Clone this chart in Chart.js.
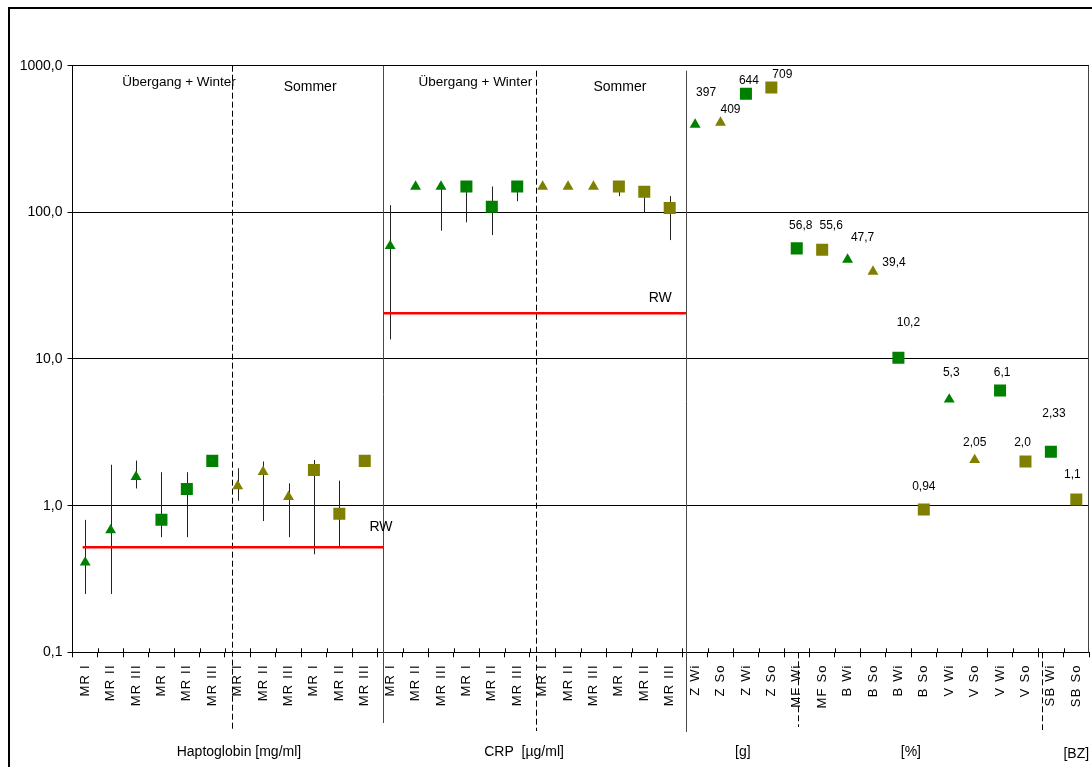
<!DOCTYPE html>
<html><head><meta charset="utf-8">
<script src="https://cdn.jsdelivr.net/npm/chart.js@4.4.1/dist/chart.umd.min.js"></script>
<style>html,body{margin:0;padding:0;background:#fff;}canvas{display:block;}</style>
</head><body>
<canvas id="c" width="1092" height="767"></canvas>
<script>
// ---------- data ----------
const categories = [
  'MR I','MR II','MR III','MR I','MR II','MR III','MR I','MR II','MR III','MR I','MR II','MR III',
  'MR I','MR II','MR III','MR I','MR II','MR III','MR I','MR II','MR III','MR I','MR II','MR III',
  'Z Wi','Z So','Z Wi','Z So','MF Wi','MF So','B Wi','B So','B Wi','B So','V Wi','V So','V Wi','V So','SB Wi','SB So'
];
const yTicks = [0.1, 1, 10, 100, 1000];

const haptoMean = [0.41, 0.68, 1.57, 0.80, 1.30, 2.02, 1.36, 1.70, 1.15, 1.75, 0.88, 2.02];
const haptoHigh = [0.80, 1.90, 2.03, 1.69, 1.69, null, 1.80, 2.00, 1.42, 2.05, 1.48, null];
const haptoLow  = [0.25, 0.25, 1.31, 0.61, 0.61, null, 1.08, 0.785, 0.61, 0.466, 0.525, null];

const crpMean = [59, 150, 150, 150, 109, 150, 150, 150, 150, 150, 138, 107];
const crpHigh = [112, null, 150, 150, 150, 150, null, null, null, 150, 138, 129];
const crpLow  = [13.6, null, 75, 85.5, 70, 119, null, null, null, 129, 100, 64.7];

const otherValues = [397, 409, 644, 709, 56.8, 55.6, 47.7, 39.4, 10.2, 0.94, 5.3, 2.05, 6.1, 2.0, 2.33, 1.1];
const otherLabels = ['397','409','644','709','56,8','55,6','47,7','39,4','10,2','0,94','5,3','2,05','6,1','2,0','2,33','1,1'];

const haptoRW = 0.52;
const crpRW = 20.5;

// ---------- styles ----------
const G = '#008000', O = '#808000';
const TRI = 'triangle', SQ = 'rect';
const groupShapes = [TRI,TRI,TRI,SQ,SQ,SQ,TRI,TRI,TRI,SQ,SQ,SQ];
const groupColors = [G,G,G,G,G,G,O,O,O,O,O,O];
const otherShapes = [TRI,TRI,SQ,SQ,SQ,SQ,TRI,TRI,SQ,SQ,TRI,TRI,SQ,SQ,SQ,SQ];
const otherColors = [G,O,G,O,G,O,G,O,G,O,G,O,G,O,G,O];
const otherLabelOffsets = [[11,-32],[10,-13],[3,-13],[11,-13],[4,-23],[9,-24],[15,-22],[21,-9],
  [10,-35],[0,-23],[2,-27],[0,-17],[2,-18],[-3,-19],[3,-38],[-4,-25]];

const HAPTO_START = 0, CRP_START = 12, OTHER_START = 24;

function pts(vals, start) { return vals.map((v, i) => ({ x: start + i, y: v })); }
function radii(shapes) { return shapes.map(s => s === SQ ? 8.5 : 6.3); }
function markerDataset(label, vals, start, shapes, colors) {
  return {
    label, data: pts(vals, start), showLine: false,
    pointStyle: shapes, pointRadius: radii(shapes),
    backgroundColor: colors, borderColor: colors, borderWidth: 0, order: 1
  };
}
function rwDataset(label, x0, x1, v) {
  return {
    label, data: [{ x: x0, y: v }, { x: x1, y: v }], showLine: true,
    borderColor: '#ff0000', borderWidth: 2.5, pointRadius: 0, order: 2
  };
}

Chart.defaults.font.family = "'Liberation Sans', Arial, sans-serif";
Chart.defaults.color = '#000';

const SEP_HAP = 11.73, SEP_CRP = 23.64;

const decor = {
  id: 'decor',
  beforeDraw(chart) {
    // slightly spaced category labels, as in the original rendering
    const s = chart.scales.x;
    if (s && !s._spaced) {
      const orig = s.drawLabels;
      s.drawLabels = function (area) {
        const c = this.ctx;
        c.save();
        c.letterSpacing = '1.2px';
        orig.call(this, area);
        c.restore();
      };
      s._spaced = true;
    }
  },
  beforeDatasetsDraw(chart) {
    const { ctx, chartArea: a, scales: { x, y } } = chart;
    ctx.save();
    // separators
    const solid = [[SEP_HAP, a.top, 723], [SEP_CRP, a.top + 5, 732]];
    const dashed = [[5.76, a.top, 731], [17.73, a.top + 5, 731], [28.05, a.bottom, 727], [37.66, a.bottom, 730]];
    ctx.lineWidth = 1;
    ctx.strokeStyle = '#4a4a4a';
    ctx.setLineDash([]);
    solid.forEach(([v, t, b]) => {
      const px = Math.round(x.getPixelForValue(v)) + 0.5;
      ctx.beginPath(); ctx.moveTo(px, t); ctx.lineTo(px, b); ctx.stroke();
    });
    ctx.strokeStyle = '#000';
    ctx.setLineDash([6, 3]);
    dashed.forEach(([v, t, b]) => {
      const px = Math.round(x.getPixelForValue(v)) + 0.5;
      ctx.beginPath(); ctx.moveTo(px, t); ctx.lineTo(px, b); ctx.stroke();
    });
    ctx.setLineDash([]);
    // error bars
    ctx.strokeStyle = '#222';
    const bars = (hi, lo, start) => hi.forEach((h, i) => {
      if (h == null || lo[i] == null) return;
      const px = Math.round(x.getPixelForValue(start + i)) + 0.5;
      ctx.beginPath(); ctx.moveTo(px, y.getPixelForValue(h)); ctx.lineTo(px, y.getPixelForValue(lo[i])); ctx.stroke();
    });
    bars(haptoHigh, haptoLow, HAPTO_START);
    bars(crpHigh, crpLow, CRP_START);
    // inner half of x-axis cross ticks
    ctx.strokeStyle = '#000';
    for (let v = 0.5; v < 39.5; v += 1) {
      const px = Math.round(x.getPixelForValue(v)) + 0.5;
      ctx.beginPath(); ctx.moveTo(px, a.bottom); ctx.lineTo(px, a.bottom - 4); ctx.stroke();
    }
    // right border of plot
    ctx.strokeStyle = '#444';
    ctx.beginPath(); ctx.moveTo(a.right - 0.5, a.top); ctx.lineTo(a.right - 0.5, a.bottom); ctx.stroke();
    ctx.restore();
  },
  afterDraw(chart) {
    const { ctx, chartArea: a, scales: { x, y } } = chart;
    ctx.save();
    ctx.fillStyle = '#000';
    ctx.textAlign = 'center';
    ctx.textBaseline = 'middle';
    const txt = (s, v, py, size) => {
      ctx.font = size + "px 'Liberation Sans', Arial, sans-serif";
      ctx.fillText(s, x.getPixelForValue(v), py);
    };
    // period headers
    txt('Übergang + Winter', 3.69, a.top + 16.5, 13.5);
    txt('Sommer', 8.85, a.top + 21.5, 14);
    txt('Übergang + Winter', 15.35, a.top + 16.5, 13.5);
    txt('Sommer', 21.04, a.top + 21.5, 14);
    // axis group titles
    txt('Haptoglobin [mg/ml]', 6.05, 752, 14);
    txt('CRP  [µg/ml]', 17.27, 752, 14);
    txt('[g]', 25.88, 752, 14);
    txt('[%]', 32.49, 752, 14);
    txt('[BZ]', 39.0, 754, 14);
    // RW labels
    txt('RW', 11.64, y.getPixelForValue(haptoRW) - 20, 14);
    txt('RW', 22.63, y.getPixelForValue(crpRW) - 15, 14);
    // data labels
    ctx.font = "12px 'Liberation Sans', Arial, sans-serif";
    otherValues.forEach((v, i) => {
      const [dx, dy] = otherLabelOffsets[i];
      ctx.fillText(otherLabels[i], x.getPixelForValue(OTHER_START + i) + dx, y.getPixelForValue(v) + dy);
    });
    // outer frame
    ctx.fillStyle = '#000';
    ctx.fillRect(8, 7, 1092 - 8, 2);
    ctx.fillRect(8, 7, 2, 767 - 7);
    ctx.restore();
  }
};

new Chart(document.getElementById('c'), {
  type: 'scatter',
  data: {
    datasets: [
      markerDataset('Haptoglobin', haptoMean, HAPTO_START, groupShapes, groupColors),
      markerDataset('CRP', crpMean, CRP_START, groupShapes, groupColors),
      markerDataset('Weitere', otherValues, OTHER_START, otherShapes, otherColors),
      rwDataset('RW Haptoglobin', -0.1, SEP_HAP, haptoRW),
      rwDataset('RW CRP', SEP_HAP, SEP_CRP, crpRW)
    ]
  },
  options: {
    responsive: false,
    animation: false,
    events: [],
    layout: { padding: { top: 65.7, right: 3, left: 0, bottom: 0 }, autoPadding: false },
    plugins: { legend: { display: false }, tooltip: { enabled: false } },
    scales: {
      x: {
        type: 'linear', min: -0.5, max: 39.5,
        afterBuildTicks: s => { const t = []; for (let v = -0.5; v <= 39.5; v += 0.5) t.push({ value: v }); s.ticks = t; },
        afterFit: s => { s.height = 767 - 652.3; s.paddingLeft = 0; s.paddingRight = 0; },
        grid: {
          drawOnChartArea: false, tickLength: 5,
          color: c => (c.tick && Math.abs(c.tick.value % 1) === 0.5) ? '#000' : 'rgba(0,0,0,0)'
        },
        border: { color: '#000', width: 1 },
        ticks: {
          autoSkip: false, minRotation: 90, maxRotation: 90, padding: 7,
          font: { size: 13 }, color: '#000',
          callback: v => Number.isInteger(v) ? categories[v] : ''
        }
      },
      y: {
        type: 'logarithmic', min: 0.1, max: 1000,
        afterBuildTicks: s => { s.ticks = yTicks.map(v => ({ value: v })); },
        afterFit: s => { s.width = 72.5; s.paddingTop = 0; s.paddingBottom = 0; },
        grid: { color: '#000', lineWidth: 1, tickLength: 5 },
        border: { color: '#000', width: 1 },
        ticks: { padding: 5, font: { size: 14 }, color: '#000', callback: v => Number(v).toFixed(1).replace('.', ',') }
      }
    }
  },
  plugins: [decor]
});
</script>
</body></html>
